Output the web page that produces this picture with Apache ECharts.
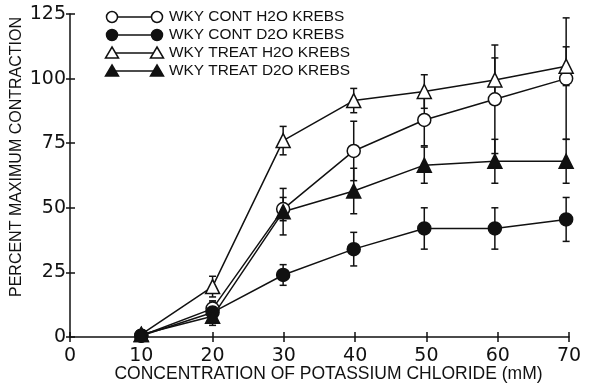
<!DOCTYPE html>
<html>
<head>
<meta charset="utf-8">
<script src="https://cdn.jsdelivr.net/npm/echarts@6/dist/echarts.min.js"></script>
<style>html,body{margin:0;padding:0;background:#fff}#c{width:609px;height:386px}</style>
</head>
<body>
<div id="c"></div>
<script>
// ---- data ----
const xValues = [10, 20, 29.9, 39.8, 49.7, 59.6, 69.6];
const seriesNames = ['WKY CONT H2O KREBS', 'WKY CONT D2O KREBS', 'WKY TREAT H2O KREBS', 'WKY TREAT D2O KREBS'];
const contH2O = [0.5, 11, 49.5, 72, 84, 92, 100];
const contH2OErr = [0.5, 3, 4.5, 11.5, 10, 21, 23.5];
const contD2O = [0.5, 9.5, 24, 34, 42, 42, 45.5];
const contD2OErr = [0.5, 4, 4, 6.5, 8, 8, 8.5];
const treatH2O = [1, 19.5, 76, 91.5, 95, 99.5, 104.8];
const treatH2OErr = [1, 4, 5.5, 4.7, 6.5, 8.5, 7.5];
const treatD2O = [1, 8, 48.5, 56.5, 66.5, 68, 68];
const treatD2OErr = [0.5, 3.5, 9, 8.8, 7, 8.5, 8.5];
const xTicks = [0, 10, 20, 30, 40, 50, 60, 70];
const yTicks = [0, 25, 50, 75, 100, 125];

const INK = '#111';
const FONT = 'Liberation Sans';
const NUMFONT = 'DejaVu Sans';

const means = [contH2O, contD2O, treatH2O, treatD2O];
const errs = [contH2OErr, contD2OErr, treatH2OErr, treatD2OErr];
const symbols = ['circle', 'circle', 'triangle', 'triangle'];
const filled = [false, true, false, true];

const chart = echarts.init(document.getElementById('c'), null, {renderer: 'canvas'});

const series = [];
means.forEach((m, i) => {
  series.push({
    type: 'custom',
    name: seriesNames[i] + ' err',
    z: 1,
    silent: true,
    data: xValues.map((x, k) => [x, m[k] - errs[i][k], m[k] + errs[i][k]]),
    renderItem: function (params, api) {
      const lo = api.coord([api.value(0), api.value(1)]);
      const hi = api.coord([api.value(0), api.value(2)]);
      const w = 3.5;
      const st = {stroke: INK, lineWidth: 1.5};
      return {
        type: 'group',
        children: [
          {type: 'line', shape: {x1: lo[0], y1: lo[1], x2: hi[0], y2: hi[1]}, style: st},
          {type: 'line', shape: {x1: lo[0] - w, y1: lo[1], x2: lo[0] + w, y2: lo[1]}, style: st},
          {type: 'line', shape: {x1: hi[0] - w, y1: hi[1], x2: hi[0] + w, y2: hi[1]}, style: st}
        ]
      };
    }
  });
});
means.forEach((m, i) => {
  series.push({
    type: 'line',
    name: seriesNames[i],
    z: 3,
    data: xValues.map((x, k) => [x, m[k]]),
    symbol: symbols[i],
    symbolSize: symbols[i] === 'circle' ? 13 : 14,
    showAllSymbol: true,
    lineStyle: {color: INK, width: 1.5},
    itemStyle: {color: filled[i] ? INK : '#fff', borderColor: INK, borderWidth: 1.5, opacity: 1}
  });
});

// legend drawn as graphic
const legendRows = [17, 35, 53, 71];
const graphic = [];
function sym(kind, isFilled, cx, cy) {
  const style = {fill: isFilled ? INK : '#fff', stroke: INK, lineWidth: 1.5};
  if (kind === 'circle') return {type: 'circle', shape: {cx: cx, cy: cy, r: 5.5}, style: style};
  return {type: 'polygon', shape: {points: [[cx, cy - 6], [cx + 6.5, cy + 5], [cx - 6.5, cy + 5]]}, style: style};
}
seriesNames.forEach((n, i) => {
  const y = legendRows[i];
  graphic.push({type: 'line', shape: {x1: 112, y1: y, x2: 157, y2: y}, style: {stroke: INK, lineWidth: 1.5}});
  graphic.push(sym(symbols[i], filled[i], 112, y));
  graphic.push(sym(symbols[i], filled[i], 157, y));
  graphic.push({type: 'text', x: 169, y: y, style: {text: n, fill: INK, font: '15.4px "' + FONT + '"', verticalAlign: 'middle', align: 'left'}});
});
graphic.push({
  type: 'text', x: 16.5, y: 157, rotation: Math.PI / 2,
  style: {text: 'PERCENT MAXIMUM CONTRACTION', fill: INK, font: '16px "' + FONT + '"', align: 'center', verticalAlign: 'middle'}
});

chart.setOption({
  animation: false,
  backgroundColor: '#fff',
  grid: {left: 70, right: 40, top: 14, bottom: 49, outerBoundsMode: 'none', containLabel: false},
  xAxis: [
    {
      type: 'value', min: 0, max: 70, interval: 10, position: 'bottom',
      axisLine: {show: true, lineStyle: {color: INK, width: 1.5}},
      splitLine: {show: false},
      axisTick: {show: true, inside: false, length: 5, lineStyle: {color: INK, width: 1.5}},
      axisLabel: {color: INK, fontFamily: NUMFONT, fontSize: 19, margin: 10,
        formatter: v => (xTicks.indexOf(v) >= 0 ? String(v) : '')},
      name: 'CONCENTRATION OF POTASSIUM CHLORIDE (mM)',
      nameLocation: 'middle', nameGap: 28, nameMoveOverlap: false,
      nameTextStyle: {color: INK, fontFamily: FONT, fontSize: 17.5, padding: [0, 0, 0, 18]}
    },
    {
      type: 'value', min: 0, max: 70, interval: 10, position: 'bottom',
      axisLine: {show: false}, axisLabel: {show: false}, splitLine: {show: false},
      axisTick: {show: true, inside: true, length: 5, lineStyle: {color: INK, width: 1.5}}
    }
  ],
  yAxis: [
    {
      type: 'value', min: 0, max: 125, interval: 25, position: 'left',
      axisLine: {show: true, lineStyle: {color: INK, width: 1.5}},
      splitLine: {show: false},
      axisTick: {show: true, inside: false, length: 4, lineStyle: {color: INK, width: 1.5}},
      axisLabel: {color: INK, fontFamily: NUMFONT, fontSize: 19, margin: 4,
        formatter: v => (yTicks.indexOf(v) >= 0 ? String(v) : '')}
    },
    {
      type: 'value', min: 0, max: 125, interval: 25, position: 'left',
      axisLine: {show: false}, axisLabel: {show: false}, splitLine: {show: false},
      axisTick: {show: true, inside: true, length: 5, lineStyle: {color: INK, width: 1.5}}
    }
  ],
  graphic: graphic,
  series: series
});
</script>
</body>
</html>
